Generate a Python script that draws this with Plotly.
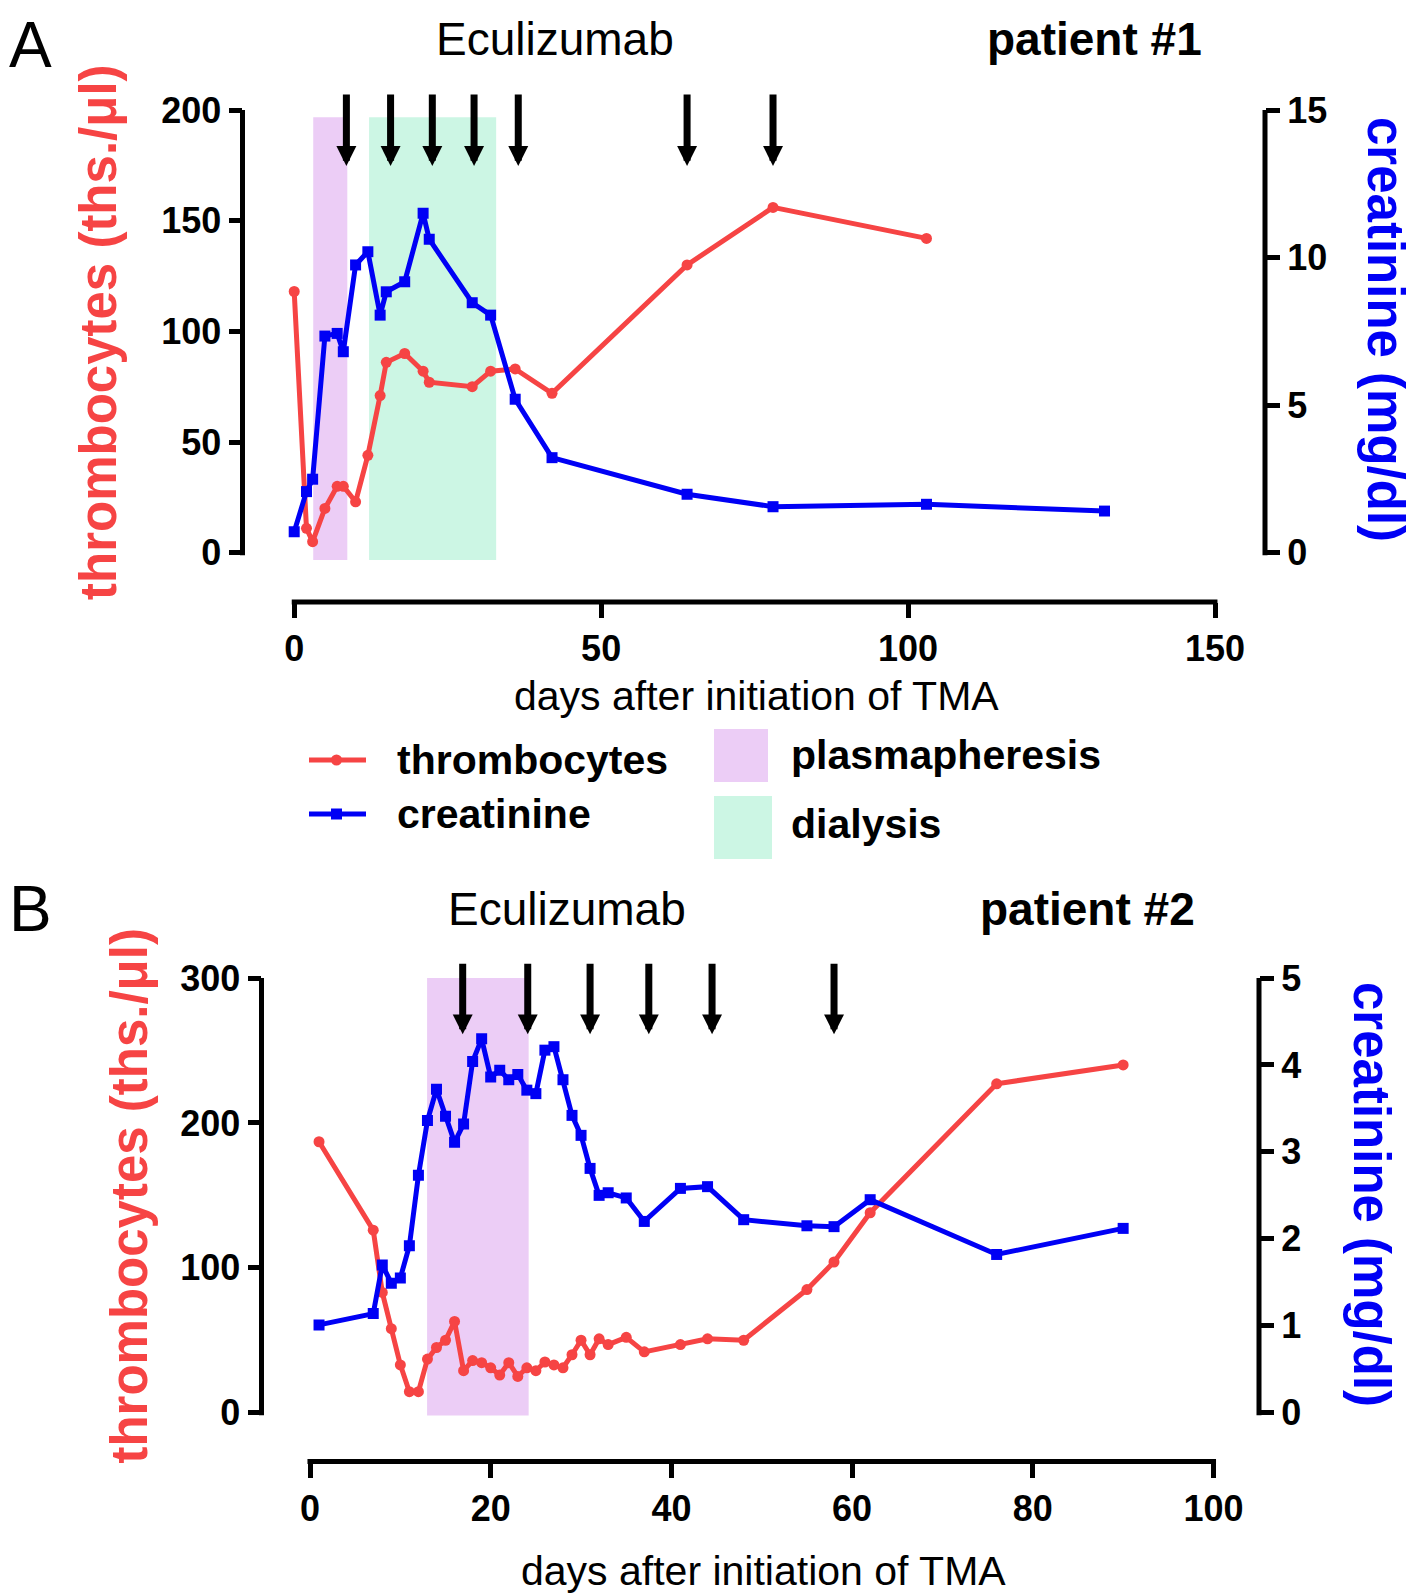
import plotly.graph_objects as go

# ---------------- data ----------------
# Panel A (patient #1)
a_thr_days = [0, 2, 3, 5, 7, 8, 10, 12, 14, 15, 18, 21, 22, 29, 32, 36, 42, 64, 78, 103]
a_thr_vals = [118, 11, 5, 20, 30, 30, 23, 44, 71, 86, 90, 82, 77, 75, 82, 83, 72, 130, 156, 142]
a_cre_days = [0, 2, 3, 5, 7, 8, 10, 12, 14, 15, 18, 21, 22, 29, 32, 36, 42, 64, 78, 103, 132]
a_cre_vals = [0.71, 2.07, 2.49, 7.34, 7.43, 6.81, 9.75, 10.2, 8.05, 8.84, 9.18, 11.5, 10.62,
              8.47, 8.05, 5.2, 3.22, 1.98, 1.56, 1.64, 1.41]
a_arrow_days = [8.5, 15.7, 22.5, 29.3, 36.5, 64, 78]
a_plasma = [3.1, 8.65]
a_dialysis = [12.2, 32.9]

# Panel B (patient #2)
b_thr_days = [1, 7, 8, 9, 10, 11, 12, 13, 14, 15, 16, 17, 18, 19, 20, 21, 22, 23, 24, 25, 26,
              27, 28, 29, 30, 31, 32, 33, 35, 37, 41, 44, 48, 55, 58, 62, 76, 90]
b_thr_vals = [187, 126, 83, 58, 33, 14.5, 14.5, 37, 45, 50, 63, 29, 36, 34.5, 31, 26, 34.5, 25,
              31, 29, 35, 33, 31, 40, 50, 40, 51, 47, 52, 42, 47, 51, 50, 85, 104, 138, 227, 240]
b_cre_days = [1, 7, 8, 9, 10, 11, 12, 13, 14, 15, 16, 17, 18, 19, 20, 21, 22, 23, 24, 25, 26,
              27, 28, 29, 30, 31, 32, 33, 35, 37, 41, 44, 48, 55, 58, 62, 76, 90]
b_cre_vals = [1.01, 1.14, 1.70, 1.49, 1.55, 1.92, 2.73, 3.36, 3.72, 3.41, 3.11, 3.32, 4.04, 4.30,
              3.86, 3.94, 3.83, 3.89, 3.71, 3.67, 4.17, 4.21, 3.83, 3.42, 3.19, 2.81, 2.50, 2.53,
              2.47, 2.20, 2.58, 2.60, 2.22, 2.15, 2.14, 2.45, 1.82, 2.12]
b_arrow_days = [16.9, 24.1, 31, 37.5, 44.5, 58]
b_plasma = [12.96, 24.2]

a_xticks = [0, 50, 100, 150]
a_yticks = [0, 50, 100, 150, 200]
a_y2ticks = [0, 5, 10, 15]
b_xticks = [0, 20, 40, 60, 80, 100]
b_yticks = [0, 100, 200, 300]
b_y2ticks = [0, 1, 2, 3, 4, 5]

# ---------------- style ----------------
PAGE_OFF = 8                      # default body margin of the html page
W, H = 1418 - PAGE_OFF, 1593 - PAGE_OFF
RED = "rgb(246,68,68)"
BLUE = "rgb(0,0,245)"
PLASMA = "rgb(236,205,246)"
DIAL = "rgb(204,246,228)"
FONT = "Liberation Sans"


def px(x):
    return (x - PAGE_OFF) / W


def py(y):
    return 1 - (y - PAGE_OFF) / H


fig = go.Figure()

# data traces
fig.add_trace(go.Scatter(x=a_thr_days, y=a_thr_vals, xaxis="x", yaxis="y", mode="lines+markers",
                         line=dict(color=RED, width=5), marker=dict(color=RED, size=11, symbol="circle"),
                         showlegend=False))
fig.add_trace(go.Scatter(x=a_cre_days, y=a_cre_vals, xaxis="x", yaxis="y2", mode="lines+markers",
                         line=dict(color=BLUE, width=5), marker=dict(color=BLUE, size=11, symbol="square"),
                         showlegend=False))
fig.add_trace(go.Scatter(x=b_thr_days, y=b_thr_vals, xaxis="x2", yaxis="y3", mode="lines+markers",
                         line=dict(color=RED, width=5), marker=dict(color=RED, size=11, symbol="circle"),
                         showlegend=False))
fig.add_trace(go.Scatter(x=b_cre_days, y=b_cre_vals, xaxis="x2", yaxis="y4", mode="lines+markers",
                         line=dict(color=BLUE, width=5), marker=dict(color=BLUE, size=11, symbol="square"),
                         showlegend=False))

tickfont = dict(family=FONT, size=36, color="black", weight="bold")
common = dict(showgrid=False, zeroline=False, showline=False, ticks="outside", tickwidth=5,
              tickcolor="black", tickfont=tickfont, automargin=False)

# Panel A geometry (reference pixel positions)
a_dom_x = [px(242.5), px(1265)]
a_x0, a_xs = 294.2, 6.1387
a_xrange = [(242.5 - a_x0) / a_xs, (1265 - a_x0) / a_xs]
a_ylo = -4
a_dom_y = [py(552.7 + 4 * 2.2135), py(110)]

b_dom_x = [px(261.5), px(1259)]
b_x0, b_xs = 310, 9.035
b_xrange = [(261.5 - b_x0) / b_xs, (1259 - b_x0) / b_xs]
b_ylo = -3
b_dom_y = [py(1412.7 + 3 * 1.449), py(978)]

fig.update_layout(
    template="none",
    width=W, height=H, margin=dict(l=0, r=0, t=0, b=0, pad=0, autoexpand=False),
    paper_bgcolor="white", plot_bgcolor="rgba(0,0,0,0)", showlegend=False,
    xaxis=dict(domain=a_dom_x, range=a_xrange, anchor="free", position=py(602),
               tickvals=a_xticks, ticklen=15, **common),
    yaxis=dict(domain=a_dom_y, range=[a_ylo, 200], anchor="x", tickvals=a_yticks, ticklen=13, **common),
    yaxis2=dict(range=[a_ylo * 15 / 200, 15], overlaying="y", side="right", anchor="x",
                tickvals=a_y2ticks, ticklen=14, **common),
    xaxis2=dict(domain=b_dom_x, range=b_xrange, anchor="free", position=py(1461.5),
                tickvals=b_xticks, ticklen=15, **common),
    yaxis3=dict(domain=b_dom_y, range=[b_ylo, 300], anchor="x2", tickvals=b_yticks, ticklen=13, **common),
    yaxis4=dict(range=[b_ylo * 5 / 300, 5], overlaying="y3", side="right", anchor="x2",
                tickvals=b_y2ticks, ticklen=14, **common),
)

shapes = []
# shaded treatment periods
shapes.append(dict(type="rect", xref="x", yref="y", x0=a_plasma[0], x1=a_plasma[1], y0=-3.3, y1=196.7,
                   fillcolor=PLASMA, line=dict(width=0), layer="below"))
shapes.append(dict(type="rect", xref="x", yref="y", x0=a_dialysis[0], x1=a_dialysis[1], y0=-3.3, y1=196.7,
                   fillcolor=DIAL, line=dict(width=0), layer="below"))
shapes.append(dict(type="rect", xref="x2", yref="y3", x0=b_plasma[0], x1=b_plasma[1], y0=-2, y1=300,
                   fillcolor=PLASMA, line=dict(width=0), layer="below"))

# spines
spine = dict(color="black", width=5)
shapes.append(dict(type="line", xref="paper", yref="y", x0=px(242.5), x1=px(242.5), y0=-1.1, y1=201.1, line=spine))
shapes.append(dict(type="line", xref="paper", yref="y2", x0=px(1265), x1=px(1265), y0=-0.085, y1=15.085, line=spine))
shapes.append(dict(type="line", xref="x", yref="paper", x0=-0.4, x1=150.4, y0=py(602), y1=py(602), line=spine))
shapes.append(dict(type="line", xref="paper", yref="y3", x0=px(261.5), x1=px(261.5), y0=-1.7, y1=301.7, line=spine))
shapes.append(dict(type="line", xref="paper", yref="y4", x0=px(1259), x1=px(1259), y0=-0.03, y1=5.03, line=spine))
shapes.append(dict(type="line", xref="x2", yref="paper", x0=-0.28, x1=100.28, y0=py(1461.5), y1=py(1461.5), line=spine))

# legend symbols
shapes.append(dict(type="line", xref="paper", yref="paper", x0=px(309), x1=px(366), y0=py(760), y1=py(760),
                   line=dict(color=RED, width=5)))
shapes.append(dict(type="circle", xref="paper", yref="paper", x0=px(331), x1=px(342), y0=py(765.5), y1=py(754.5),
                   fillcolor=RED, line=dict(width=0)))
shapes.append(dict(type="line", xref="paper", yref="paper", x0=px(309), x1=px(366), y0=py(814), y1=py(814),
                   line=dict(color=BLUE, width=5)))
shapes.append(dict(type="rect", xref="paper", yref="paper", x0=px(331), x1=px(342), y0=py(819.5), y1=py(808.5),
                   fillcolor=BLUE, line=dict(width=0)))
shapes.append(dict(type="rect", xref="paper", yref="paper", x0=px(714), x1=px(768), y0=py(782), y1=py(729),
                   fillcolor=PLASMA, line=dict(width=0)))
shapes.append(dict(type="rect", xref="paper", yref="paper", x0=px(714), x1=px(772), y0=py(859), y1=py(796),
                   fillcolor=DIAL, line=dict(width=0)))
fig.update_layout(shapes=shapes)

ann = []


def text(t, x, y, size, bold=False, color="black", angle=0, xanchor="center", yanchor="middle"):
    ann.append(dict(text=t, x=px(x), y=py(y), xref="paper", yref="paper", showarrow=False,
                    xanchor=xanchor, yanchor=yanchor, textangle=angle, borderpad=0,
                    font=dict(family=FONT, size=size, color=color, weight="bold" if bold else "normal")))


text("A", 8, 8, 64, xanchor="left", yanchor="top")
text("Eculizumab", 555, 39, 46)
text("patient #1", 1094, 39, 46, bold=True)
text("thrombocytes (ths./μl)", 98, 332, 51, bold=True, color=RED, angle=-90)
text("creatinine (mg/dl)", 1386, 329, 51, bold=True, color=BLUE, angle=90)
text("days after initiation of TMA", 756, 696, 41)
text("thrombocytes", 396, 760, 41, bold=True, xanchor="left")
text("creatinine", 396, 814, 41, bold=True, xanchor="left")
text("plasmapheresis", 790, 755, 41, bold=True, xanchor="left")
text("dialysis", 790, 824, 41, bold=True, xanchor="left")
text("B", 8, 909, 64, xanchor="left")
text("Eculizumab", 567, 909, 46)
text("patient #2", 1087, 909, 46, bold=True)
text("thrombocytes (ths./μl)", 128.6, 1196, 51, bold=True, color=RED, angle=-90)
text("creatinine (mg/dl)", 1372, 1194, 51, bold=True, color=BLUE, angle=90)
text("days after initiation of TMA", 763, 1571, 41)

# Eculizumab dose arrows
for d in a_arrow_days:
    ann.append(dict(x=d, y=174.7, xref="x", yref="y", text="", showarrow=True, ax=0, ay=-73,
                    arrowhead=2, arrowsize=0.57, arrowwidth=7, arrowcolor="black"))
for d in b_arrow_days:
    ann.append(dict(x=d, y=261.1, xref="x2", yref="y3", text="", showarrow=True, ax=0, ay=-72,
                    arrowhead=2, arrowsize=0.57, arrowwidth=7, arrowcolor="black"))

fig.update_layout(annotations=ann)

fig.write_html("out.html")
